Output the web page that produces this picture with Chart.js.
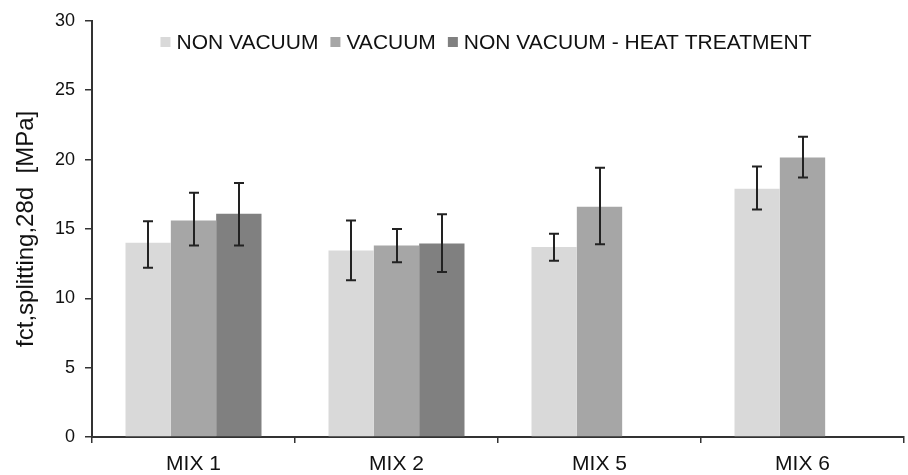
<!DOCTYPE html>
<html>
<head>
<meta charset="utf-8">
<script src="https://cdn.jsdelivr.net/npm/chart.js@4.4.1/dist/chart.umd.min.js"></script>
<style>
  html, body { margin: 0; padding: 0; background: #fff; }
  #wrap { position: relative; width: 908px; height: 475px; }
</style>
</head>
<body>
<div id="wrap"><canvas id="chart"></canvas></div>
<script>
// ============================================
// Splitting tensile strength at 28 days
// Bars with min/max error whiskers per mix
// ============================================

const categories = ['MIX 1', 'MIX 2', 'MIX 5', 'MIX 6'];
const seriesNames = ['NON VACUUM', 'VACUUM', 'NON VACUUM - HEAT TREATMENT'];

// mean values [MPa]
const nonVacuum = [14.0, 13.45, 13.7, 17.9];
const vacuum = [15.6, 13.8, 16.6, 20.15];
const heatTreatment = [16.1, 13.95, null, null];

// whisker ends [MPa]
const nonVacuumLow = [12.2, 11.3, 12.7, 16.4];
const nonVacuumHigh = [15.55, 15.6, 14.65, 19.5];
const vacuumLow = [13.8, 12.6, 13.9, 18.7];
const vacuumHigh = [17.6, 15.0, 19.4, 21.65];
const heatLow = [13.8, 11.9, null, null];
const heatHigh = [18.3, 16.05, null, null];

const yTicks = [0, 5, 10, 15, 20, 25, 30];

const FONT = "'Liberation Sans', Arial, sans-serif";
const colors = ['#d9d9d9', '#a6a6a6', '#808080'];
const axisColor = '#333';

/**
 * Draws the min/max whiskers on top of the bars
 */
const errorBarPlugin = {
    id: 'errorBars',
    afterDatasetsDraw(chart) {
        const ctx = chart.ctx;
        const yScale = chart.scales.y;
        ctx.save();
        ctx.strokeStyle = '#222';
        ctx.lineWidth = 2;
        chart.data.datasets.forEach((ds, i) => {
            const meta = chart.getDatasetMeta(i);
            meta.data.forEach((bar, j) => {
                const lo = ds.errLow[j];
                const hi = ds.errHigh[j];
                if (lo == null || hi == null) return;
                const x = Math.round(bar.x);
                const yHi = yScale.getPixelForValue(hi);
                const yLo = yScale.getPixelForValue(lo);
                ctx.beginPath();
                ctx.moveTo(x, yHi);
                ctx.lineTo(x, yLo);
                ctx.moveTo(x - 5, yHi);
                ctx.lineTo(x + 5, yHi);
                ctx.moveTo(x - 5, yLo);
                ctx.lineTo(x + 5, yLo);
                ctx.stroke();
            });
        });
        ctx.restore();
    }
};

/**
 * Legend drawn inside the plot area, one row, centered
 */
const innerLegendPlugin = {
    id: 'innerLegend',
    afterDraw(chart, args, opts) {
        const ctx = chart.ctx;
        const box = opts.boxSize;
        const gap = opts.boxGap;
        const spacing = opts.itemGap;
        ctx.save();
        ctx.font = opts.fontSize + 'px ' + FONT;
        ctx.textBaseline = 'middle';
        const items = chart.data.datasets.map(ds => ({
            label: ds.label,
            color: ds.backgroundColor,
            w: box + gap + ctx.measureText(ds.label).width
        }));
        const total = items.reduce((s, it) => s + it.w, 0) + spacing * (items.length - 1);
        let x = opts.centerX - total / 2;
        const y = opts.centerY;
        items.forEach(it => {
            ctx.fillStyle = it.color;
            ctx.fillRect(x, y - box / 2, box, box);
            ctx.fillStyle = '#111';
            ctx.fillText(it.label, x + box + gap, y + 1);
            x += it.w + spacing;
        });
        ctx.restore();
    }
};

const datasets = [
    { label: seriesNames[0], data: nonVacuum, errLow: nonVacuumLow, errHigh: nonVacuumHigh, backgroundColor: colors[0] },
    { label: seriesNames[1], data: vacuum, errLow: vacuumLow, errHigh: vacuumHigh, backgroundColor: colors[1] },
    { label: seriesNames[2], data: heatTreatment, errLow: heatLow, errHigh: heatHigh, backgroundColor: colors[2] }
].map(ds => ({
    ...ds,
    borderWidth: 0,
    barPercentage: 1.0,
    categoryPercentage: 0.67
}));

const chart = new Chart(document.getElementById('chart'), {
    type: 'bar',
    data: { labels: categories, datasets },
    plugins: [errorBarPlugin, innerLegendPlugin],
    options: {
        responsive: true,
        maintainAspectRatio: false,
        animation: false,
        layout: {
            padding: { top: 16, right: 4, left: 0, bottom: 0 }
        },
        scales: {
            x: {
                grid: {
                    offset: true,
                    drawOnChartArea: false,
                    drawTicks: true,
                    tickLength: 6,
                    color: axisColor,
                    lineWidth: 1.5
                },
                border: { display: true, color: axisColor, width: 2 },
                ticks: {
                    color: '#111',
                    padding: 9,
                    font: { family: FONT, size: 21 }
                },
                afterFit(scale) { scale.height = 38; }
            },
            y: {
                min: 0,
                max: 30,
                afterBuildTicks(scale) {
                    scale.ticks = yTicks.map(v => ({ value: v }));
                },
                grid: {
                    drawOnChartArea: false,
                    drawTicks: true,
                    tickLength: 7,
                    color: axisColor,
                    lineWidth: 1.5
                },
                border: { display: true, color: axisColor, width: 2 },
                ticks: {
                    color: '#111',
                    padding: 10,
                    font: { family: FONT, size: 18 }
                },
                title: {
                    display: true,
                    text: 'fct,splitting,28d  [MPa]',
                    color: '#111',
                    padding: { top: 12, bottom: 0 },
                    font: { family: FONT, size: 24 }
                },
                afterFit(scale) { scale.width = 92; }
            }
        },
        plugins: {
            legend: { display: false },
            tooltip: { enabled: false },
            innerLegend: {
                centerX: 486,
                centerY: 42,
                fontSize: 21,
                boxSize: 10,
                boxGap: 6,
                itemGap: 12
            }
        }
    }
});
</script>
</body>
</html>
